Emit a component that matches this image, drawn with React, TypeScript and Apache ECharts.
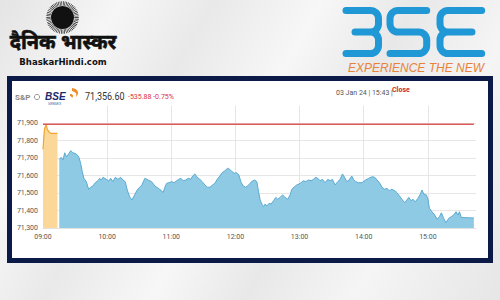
import React, { useEffect, useRef } from "react";
import * as echarts from "echarts";

// ---- data (minutes after 09:00, index value) ----
const preOpenTimes = [0, 1, 1.6, 3, 4, 5.5, 7, 13.5];
const preOpenValues = [71750, 71841, 71870, 71889, 71864, 71850, 71841, 71841];

const sessionTimes = [
  15.2, 17, 18.7, 20.3, 21.8, 24, 25.9, 28, 31.1, 33.4, 35.2, 36.7, 38.3, 40.5, 42.7, 44.6, 46.7, 48.9,
  51.4, 53, 54.5, 56.1, 59.2, 61.4, 63.3, 65.4, 67.6, 70.1, 72.6, 74.8, 76.9, 78.8, 81, 83.2, 85.7, 88.1,
  90.4, 92.5, 95.3, 98.4, 101.6, 104.7, 107.8, 110.9, 112.4, 114, 115.6, 117.8, 120.3, 122.7, 125, 127.1,
  129, 131.1, 133.4, 135.8, 138.3, 139.9, 142.1, 144.2, 146.7, 148.9, 151.4, 153.9, 156.1, 158.6, 160.7,
  162.9, 165.4, 167.6, 170.1, 172.6, 174.8, 176.9, 178.8, 181, 183.2, 185, 187.2, 189.7, 192.5, 195,
  197.9, 200, 201.6, 203.1, 204.7, 206.3, 207.8, 209.3, 211.5, 213.4, 215.6, 217.8, 219.6, 221.8, 224,
  226.4, 228.9, 231.1, 232.7, 235.2, 237.4, 240.5, 243.6, 245.8, 248.3, 250.7, 253, 255.1, 257, 259.2,
  261.4, 263.8, 266.4, 268.5, 270.7, 273.2, 275.7, 277.9, 280.1, 282, 284.1, 286.3, 288.8, 290.4, 292.5,
  295, 298.4, 301.6, 304.7, 307.8, 310.3, 312.5, 314.7, 317.1, 319.6, 321.8, 324, 326.4, 329, 331.1,
  333.4, 335.8, 338.3, 340.4, 342.1, 344.2, 346.1, 348.3, 350.7, 353, 354.5, 356.1, 358.6, 360.1, 361.4,
  363.8, 366.4, 368.5, 370.8, 372.6, 374.8, 376.9, 379.4, 381.9, 384.1, 386.3, 388.2, 389.5, 391.3, 403,
];
const sessionValues = [
  71692, 71704, 71689, 71730, 71707, 71723, 71742, 71730, 71723, 71707, 71670, 71622, 71584, 71565, 71521, 71533, 71540, 71559,
  71570, 71584, 71574, 71590, 71578, 71569, 71584, 71565, 71590, 71578, 71590, 71574, 71565, 71517, 71479, 71460, 71489, 71517,
  71533, 71546, 71584, 71574, 71565, 71540, 71527, 71513, 71502, 71533, 71555, 71559, 71565, 71559, 71570, 71578,
  71584, 71570, 71574, 71584, 71578, 71597, 71609, 71590, 71578, 71565, 71546, 71533, 71533, 71546, 71555,
  71578, 71597, 71616, 71627, 71641, 71635, 71622, 71613, 71616, 71603, 71565, 71540, 71533, 71546, 71565,
  71574, 71565, 71508, 71460, 71437, 71422, 71437, 71426, 71441, 71437, 71456, 71475, 71464, 71475, 71489,
  71475, 71464, 71489, 71521, 71536, 71546, 71555, 71570, 71565, 71574, 71570, 71578, 71590, 71584, 71570,
  71578, 71559, 71578, 71570, 71578, 71546, 71565, 71578, 71609, 71590, 71565, 71574, 71597, 71578, 71565,
  71559, 71559, 71574, 71584, 71593, 71590, 71574, 71559, 71533, 71521, 71527, 71513, 71521, 71513, 71502,
  71483, 71464, 71445, 71460, 71475, 71456, 71464, 71450, 71470, 71494, 71517, 71494, 71489, 71464, 71413,
  71393, 71374, 71350, 71365, 71387, 71355, 71330, 71355, 71365, 71374, 71393, 71374, 71393, 71360, 71357,
];

const prevClose = 71892.48;
const lineStart = 0;
const lineEnd = 403;

const hourLabels = ["09:00", "10:00", "11:00", "12:00", "13:00", "14:00", "15:00"];
const yTickLabels = ["71,300", "71,400", "71,500", "71,600", "71,700", "71,800", "71,900"];
const yMin = 71300;
const yMax = 72000;
const yStep = 100;

const lastPriceText = "71,356.60";
const changeText = "-535.88 -0.75%";
const stampText = "03 Jan 24 | 15:43 |";
const statusText = "Close";

const bseLogoPath =
  "M346 10.5 H370.5 A8 8 0 0 1 378.5 18.5 V24 A8 8 0 0 1 370.5 32 H355 " +
  "M370.5 32 A8 8 0 0 1 378.5 40 V45.5 A8 8 0 0 1 370.5 53.5 H346 " +
  "M426.7 10.5 H398 A8 8 0 0 0 390 18.5 V24 A8 8 0 0 0 398 32 H418.7 A8 8 0 0 1 426.7 40 V45.5 A8 8 0 0 1 418.7 53.5 H390 " +
  "M481.7 10.5 H448 A8 8 0 0 0 440 18.5 V24 A8 8 0 0 0 448 32 H472 " +
  "M448 32 A8 8 0 0 0 440 40 V45.5 A8 8 0 0 0 448 53.5 H481.7";

const flamePath =
  "M72 88 C78 89 80 93 76 97 C77 94 76 92 72 91 Z M70 94 C73 94 74 96 72 98 C72 97 71 96 70 96 Z";

let registered = false;
function registerShapes() {
  if (registered) return;
  echarts.graphic.registerShape("bseLogo", echarts.graphic.extendPath(bseLogoPath, {}));
  echarts.graphic.registerShape("bseFlame", echarts.graphic.extendPath(flamePath, {}));
  registered = true;
}

export default function App() {
  const ref = useRef<HTMLDivElement>(null);

  useEffect(() => {
    if (!ref.current) return;
    registerShapes();
    const chart = echarts.init(ref.current, null, { renderer: "svg" });

    const preOpen = preOpenTimes.map((t, i) => [t, preOpenValues[i]]);
    const session = sessionTimes.map((t, i) => [t, sessionValues[i]]);
    const closeLine = [
      [lineStart, prevClose],
      [lineEnd, prevClose],
    ];

    const font = "Roboto, 'Liberation Sans', sans-serif";

    chart.setOption({
      animation: false,
      backgroundColor: "transparent",
      grid: { left: 43, top: 105.5, width: 433, height: 122.5, containLabel: false },
      xAxis: {
        type: "value",
        min: 0,
        max: 405,
        interval: 60,
        axisLine: { show: true, lineStyle: { color: "#e2e2e2" } },
        axisTick: { show: false },
        axisLabel: {
          color: "#555",
          fontSize: 7,
          fontFamily: font,
          margin: 5,
          formatter: (v: number) => (v % 60 === 0 ? hourLabels[v / 60] ?? "" : ""),
        },
        splitLine: { show: true, showMinLine: false, showMaxLine: false, lineStyle: { color: "#e6e6e6", width: 1 } },
      },
      yAxis: {
        type: "value",
        min: yMin,
        max: yMax,
        interval: yStep,
        axisLine: { show: false },
        axisTick: { show: false },
        axisLabel: {
          color: "#555",
          fontSize: 7,
          fontFamily: font,
          margin: 5,
          formatter: (v: number) => yTickLabels[Math.round((v - yMin) / yStep)] ?? "",
        },
        splitLine: { show: true, showMinLine: false, showMaxLine: false, lineStyle: { color: "#e6e6e6", width: 1 } },
      },
      series: [
        {
          type: "line",
          data: preOpen,
          symbol: "none",
          lineStyle: { color: "#f2a52a", width: 1.2 },
          areaStyle: { color: "#fbd899", opacity: 1 },
          z: 2,
        },
        {
          type: "line",
          data: session,
          symbol: "none",
          lineStyle: { color: "#5aaad2", width: 1 },
          areaStyle: { color: "#8fcae4", opacity: 1 },
          z: 2,
        },
        {
          type: "line",
          data: closeLine,
          symbol: "none",
          lineStyle: { color: "#dd5a5a", width: 1.5 },
          z: 3,
        },
      ],
      graphic: [
        // Dainik Bhaskar logo
        { type: "circle", shape: { cx: 62.5, cy: 17.5, r: 11.5 }, style: { fill: "#111" } },
        {
          type: "circle",
          shape: { cx: 62.5, cy: 17.5, r: 14 },
          style: { fill: null, stroke: "#111", lineWidth: 4.5, lineDash: [0.6, 0.9] },
        },
        {
          type: "text",
          x: 63,
          y: 43.5,
          style: {
            text: "दैनिक भास्कर",
            fill: "#111",
            fontSize: 20,
            fontWeight: "bold",
            fontFamily: "'Noto Sans Devanagari', 'Noto Sans', 'DejaVu Sans', sans-serif",
            align: "center",
            verticalAlign: "middle",
            stroke: "#111",
            lineWidth: 0.6,
          },
        },
        {
          type: "text",
          x: 63,
          y: 61,
          style: {
            text: "BhaskarHindi.com",
            fill: "#111",
            fontSize: 9.5,
            fontWeight: "bold",
            fontFamily: "'Liberation Sans Narrow', 'DejaVu Sans Condensed', sans-serif",
            align: "center",
            verticalAlign: "middle",
          },
        },
        // BSE logo
        {
          type: "bseLogo",
          x: 0,
          y: 0,
          style: { fill: null, stroke: "#1f98d5", lineWidth: 7, lineCap: "round", lineJoin: "round" },
        },
        {
          type: "text",
          x: 416,
          y: 67.5,
          style: {
            text: "EXPERIENCE THE NEW",
            fill: "#e8823a",
            fontSize: 12,
            fontStyle: "italic",
            fontFamily: "'Liberation Sans', Arial, sans-serif",
            align: "center",
            verticalAlign: "middle",
          },
        },
        // chart header
        {
          type: "text",
          x: 15,
          y: 97,
          style: { text: "S&P", fill: "#888", fontSize: 8, fontWeight: "bold", fontFamily: font, verticalAlign: "middle" },
        },
        {
          type: "circle",
          shape: { cx: 37, cy: 97, r: 2.6 },
          style: { fill: null, stroke: "#999", lineWidth: 1 },
        },
        {
          type: "text",
          x: 45,
          y: 96.5,
          style: {
            text: "BSE",
            fill: "#1b2a6b",
            fontSize: 10,
            fontWeight: "bold",
            fontStyle: "italic",
            fontFamily: "'Liberation Sans', Arial, sans-serif",
            verticalAlign: "middle",
          },
        },
        {
          type: "text",
          x: 48,
          y: 104,
          style: { text: "SENSEX", fill: "#3a6ab0", fontSize: 3.6, fontFamily: font, verticalAlign: "middle" },
        },
        { type: "bseFlame", x: 0, y: 0, style: { fill: "#f08a24" } },
        {
          type: "text",
          x: 85,
          y: 96,
          scaleX: 0.82,
          style: { text: lastPriceText, fill: "#333", fontSize: 11, fontFamily: font, verticalAlign: "middle" },
        },
        {
          type: "text",
          x: 128,
          y: 97,
          style: { text: changeText, fill: "#e0303a", fontSize: 7, fontFamily: font, verticalAlign: "middle" },
        },
        {
          type: "text",
          x: 336,
          y: 93,
          style: { text: stampText, fill: "#555", fontSize: 7, fontFamily: font, verticalAlign: "middle" },
        },
        {
          type: "text",
          x: 392,
          y: 90,
          style: { text: statusText, fill: "#d02828", fontSize: 7, fontWeight: "bold", fontFamily: font, verticalAlign: "middle" },
        },
      ],
    });

    return () => chart.dispose();
  }, []);

  return (
    <div
      style={{
        position: "fixed",
        left: 0,
        top: 0,
        width: 500,
        height: 300,
        overflow: "hidden",
        background:
          "linear-gradient(120deg, #e4e4e4 0%, #f6f6f6 18%, #e9e9e9 32%, #f7f7f7 48%, #e8e8e8 62%, #f5f5f5 78%, #e6e6e6 100%)",
      }}
    >
      <div
        style={{
          position: "absolute",
          left: 7,
          top: 76,
          width: 476,
          height: 177,
          border: "5px solid #0c1a47",
          background: "#ffffff",
        }}
      />
      <div ref={ref} style={{ position: "absolute", left: 0, top: 0, width: 500, height: 300 }} />
    </div>
  );
}
